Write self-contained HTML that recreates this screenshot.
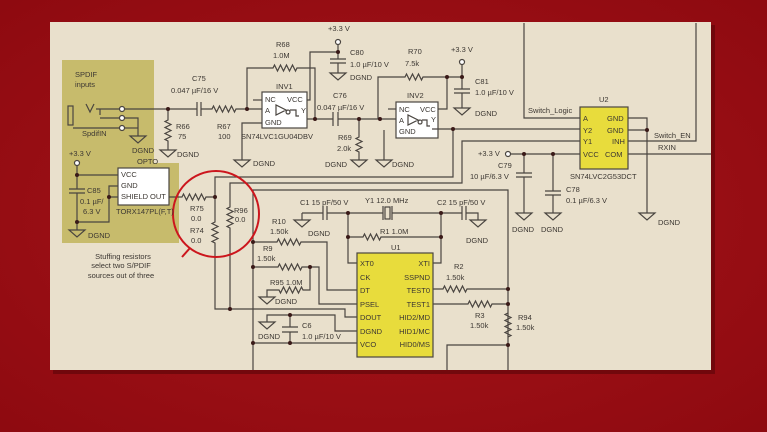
<!DOCTYPE html>
<html><head><meta charset="utf-8"><style>
html,body{margin:0;padding:0;background:#9a0c12;}
svg{display:block}
text{font-family:"Liberation Sans",sans-serif;font-size:7.5px;fill:#3c3732}
</style></head><body>
<svg width="767" height="432" viewBox="0 0 767 432" xmlns="http://www.w3.org/2000/svg">
<defs>
<radialGradient id="bg" cx="50%" cy="50%" r="70%"><stop offset="0" stop-color="#a8141a"/><stop offset="1" stop-color="#8e0a10"/></radialGradient>
</defs>
<rect width="767" height="432" fill="url(#bg)"/>
<rect x="53" y="25" width="662" height="349" fill="#5a0508" opacity="0.6"/>
<rect x="50" y="22" width="661" height="348" fill="#e9e0cc"/>
<!-- olive area -->
<path d="M62 60 H154 V163 H179 V243 H62 Z" fill="#c7bb6c"/>
<g stroke="#4a4540" stroke-width="1.2" fill="none">
<!-- jack -->
<rect x="68" y="106" width="5" height="19"/>
<path d="M86 104 l4 8 l4 -8"/>
<path d="M96 109 H120"/><path d="M100 109 v6"/><path d="M100 118 H120"/><path d="M73 128 H120"/>
<path d="M125 118 H138 V136"/><path d="M125 128 H138"/>
<path d="M130 136 h16 l-8 7 z"/>
<path d="M125 109 H197 M197 102 v14 M201 102 v14 M201 109 H212 l1.5 -3 l3 6 l3 -6 l3 6 l3 -6 l3 6 l3 -6 l3 6 l1.5 -3 H262"/>
<!-- R66 -->
<path d="M168 109 V120 l-3 1.5 l6 3 l-6 3 l6 3 l-6 3 l6 3 l-6 3 l3 1.5 V150"/>
<path d="M160 150 h16 l-8 7 z"/>
<!-- INV1 -->
<rect x="262" y="92" width="45" height="36" fill="#fff"/>
<path d="M253 100 H262"/>
<path d="M276 105 v10 l10 -5 z M288 110 a2 2 0 1 0 0.1 0 M290 110 h6 v6 h3"/>
<path d="M247 109 V68 H273 l1.5 -3 l3 6 l3 -6 l3 6 l3 -6 l3 6 l3 -6 l3 6 l1.5 -3 H315 V119"/>
<path d="M262 123 H242 V160"/><path d="M234 160 h16 l-8 7 z"/>
<path d="M307 100 H310 V52 H338"/>
<path d="M338 45 V59 M330 59 h16 M330 63 h16 M338 63 V73"/><path d="M330 73 h16 l-8 7 z"/>
<path d="M307 119 H333 M333 112 v14 M338 112 v14 M338 119 H396"/>
<path d="M359 119 V137 l-3 1.5 l6 3 l-6 3 l6 3 l-6 3 l3 1.5 V160"/><path d="M351 160 h16 l-8 7 z"/>
<path d="M384 130 V160"/><path d="M376 160 h16 l-8 7 z"/>
<!-- INV2 -->
<rect x="396" y="102" width="42" height="36" fill="#fff"/>
<path d="M388 109 H396"/>
<path d="M408 115 v10 l10 -5 z M420 120 a2 2 0 1 0 0.1 0 M422 120 h5 v6 h3"/>
<path d="M378 119 V77 H405 l1.5 -3 l3 6 l3 -6 l3 6 l3 -6 l3 6 l1.5 -3 H462"/>
<path d="M438 109 H447 V77"/>
<path d="M462 65 V89 M454 89 h16 M454 93 h16 M462 93 V108"/><path d="M454 108 h16 l-8 7 z"/>
<path d="M432 129 H580"/>
<!-- U2 wiring -->
<path d="M524 23 V118 H580"/>
<path d="M580 141 H462 V183 H230 V207 l-3 1.5 l6 3 l-6 3 l6 3 l-6 3 l6 3 l-6 3 l3 1.5 V309"/>
<path d="M453 129 V177 H215 V197"/>
<path d="M510 154 H580"/>
<path d="M524 154 V173 M516 173 h16 M516 177 h16 M524 177 V213"/><path d="M516 213 h16 l-8 7 z"/>
<path d="M553 154 V191 M545 191 h16 M545 195 h16 M553 195 V213"/><path d="M545 213 h16 l-8 7 z"/>
<path d="M628 118 H647 V213 M628 130 H647"/><path d="M639 213 h16 l-8 7 z"/>
<path d="M628 141 H696 V23"/>
<path d="M628 154 H711"/>
<!-- OPTO -->
<rect x="118" y="168" width="51" height="37" fill="#fff"/>
<path d="M77 166 V189 M69 189 h16 M69 193 h16 M77 193 V230"/><path d="M69 230 h16 l-8 7 z"/>
<path d="M77 175 H118"/>
<path d="M118 186 H109 V222 H77 M109 197 H118"/>
<path d="M169 197 H182 l1.5 -3 l3 6 l3 -6 l3 6 l3 -6 l3 6 l3 -6 l3 6 l1.5 -3 H215"/>
<path d="M215 197 V222 l-3 1.5 l6 3 l-6 3 l6 3 l-6 3 l6 3 l-6 3 l3 1.5 V309 H345 V317 H357"/>
<!-- lower -->
<path d="M253 370 V190 H508 V370"/>
<path d="M253 242 H277 l1.5 -3 l3 6 l3 -6 l3 6 l3 -6 l3 6 l3 -6 l3 6 l1.5 -3 H327 V290 H357"/>
<path d="M253 267 H278 l1.5 -3 l3 6 l3 -6 l3 6 l3 -6 l3 6 l3 -6 l3 6 l1.5 -3 H319 V304 H357"/>
<path d="M310 267 V290 H303 l-1.5 -3 l-3 6 l-3 -6 l-3 6 l-3 -6 l-3 6 l-3 -6 l-3 6 l-1.5 -3 H267 V297"/><path d="M259 297 h16 l-8 7 z"/>
<path d="M357 331 H335 V315 H267 V322"/><path d="M259 322 h16 l-8 7 z"/>
<path d="M290 315 V327 M282 327 h16 M282 332 h16 M290 332 V343"/>
<path d="M253 343 H357"/>
<path d="M302 213 V220"/><path d="M294 220 h16 l-8 7 z"/>
<path d="M302 213 H323 M323 206 v14 M327 206 v14 M327 213 H383 M383 206 v14 M392 206 v14 M392 213 H462 M462 206 v14 M466 206 v14 M466 213 H478 V220"/>
<rect x="385" y="207" width="5" height="12"/>
<path d="M470 220 h16 l-8 7 z"/>
<path d="M348 213 V263 H357 M348 237 H363 l1.5 -3 l3 6 l3 -6 l3 6 l3 -6 l3 6 l1.5 -3 H441 M441 213 V263 H433"/>
<path d="M433 289 H443 l1.5 -3 l3 6 l3 -6 l3 6 l3 -6 l3 6 l3 -6 l3 6 l1.5 -3 H508"/>
<path d="M433 304 H468 l1.5 -3 l3 6 l3 -6 l3 6 l3 -6 l3 6 l3 -6 l3 6 l1.5 -3 H508"/>
<path d="M508 313 l-3 1.5 l6 3 l-6 3 l6 3 l-6 3 l6 3 l-6 3 l6 3 l-3 1.5"/>
<path d="M508 345 H447 V370"/>
</g>
<!-- white circles for terminals -->
<g stroke="#4a4540" stroke-width="1.2" fill="#fff">
<circle cx="122" cy="109" r="2.5"/><circle cx="122" cy="118" r="2.5"/><circle cx="122" cy="128" r="2.5"/>
<circle cx="338" cy="42" r="2.5"/><circle cx="462" cy="62" r="2.5"/><circle cx="508" cy="154" r="2.5"/><circle cx="77" cy="163" r="2.5"/>
</g>
<!-- U2, U1 yellow -->
<rect x="580" y="107" width="48" height="62" fill="#e8dc3c" stroke="#4a4540" stroke-width="1.2"/>
<rect x="357" y="253" width="76" height="104" fill="#e8dc3c" stroke="#4a4540" stroke-width="1.2"/>
<!-- junction dots -->
<g fill="#3a1a18">
<circle cx="168" cy="109" r="2"/><circle cx="247" cy="109" r="2"/><circle cx="338" cy="52" r="2"/><circle cx="315" cy="119" r="2"/>
<circle cx="359" cy="119" r="2"/><circle cx="380" cy="119" r="2"/><circle cx="447" cy="77" r="2"/><circle cx="462" cy="77" r="2"/>
<circle cx="453" cy="129" r="2"/><circle cx="524" cy="154" r="2"/><circle cx="553" cy="154" r="2"/><circle cx="647" cy="130" r="2"/>
<circle cx="77" cy="175" r="2"/><circle cx="77" cy="222" r="2"/><circle cx="109" cy="197" r="2"/><circle cx="215" cy="197" r="2"/>
<circle cx="230" cy="309" r="2"/><circle cx="253" cy="242" r="2"/><circle cx="253" cy="267" r="2"/><circle cx="310" cy="267" r="2"/>
<circle cx="253" cy="343" r="2"/><circle cx="290" cy="315" r="2"/><circle cx="290" cy="343" r="2"/><circle cx="348" cy="213" r="2"/>
<circle cx="348" cy="237" r="2"/><circle cx="441" cy="213" r="2"/><circle cx="441" cy="237" r="2"/><circle cx="508" cy="289" r="2"/>
<circle cx="508" cy="304" r="2"/><circle cx="508" cy="345" r="2"/>
</g>
<!-- red circle -->
<circle cx="216" cy="214" r="43" fill="none" stroke="#cc161d" stroke-width="2"/>
<path d="M190 248 L182 257" stroke="#cc161d" stroke-width="2"/>
<!-- labels -->
<text x="75" y="77">SPDIF</text><text x="75" y="87">inputs</text>
<text x="82" y="136">SpdifIN</text><text x="132" y="153">DGND</text>
<text x="192" y="81">C75</text><text x="171" y="93">0.047 µF/16 V</text>
<text x="176" y="129">R66</text><text x="178" y="139">75</text><text x="177" y="157">DGND</text>
<text x="217" y="129">R67</text><text x="218" y="139">100</text>
<text x="276" y="47">R68</text><text x="273" y="58">1.0M</text>
<text x="276" y="89">INV1</text>
<g font-size="7"><text x="265" y="102">NC</text><text x="287" y="102">VCC</text><text x="265" y="113">A</text><text x="301" y="113">Y</text><text x="265" y="125">GND</text></g>
<text x="241" y="139">SN74LVC1GU04DBV</text><text x="253" y="166">DGND</text>
<text x="328" y="31">+3.3 V</text><text x="350" y="55">C80</text><text x="350" y="67">1.0 µF/10 V</text><text x="350" y="80">DGND</text>
<text x="333" y="98">C76</text><text x="317" y="110">0.047 µF/16 V</text>
<text x="338" y="140">R69</text><text x="337" y="151">2.0k</text><text x="325" y="167">DGND</text><text x="392" y="167">DGND</text>
<text x="408" y="54">R70</text><text x="405" y="66">7.5k</text><text x="407" y="98">INV2</text>
<g font-size="7"><text x="399" y="112">NC</text><text x="420" y="112">VCC</text><text x="399" y="123">A</text><text x="431" y="122">Y</text><text x="399" y="134">GND</text></g>
<text x="451" y="52">+3.3 V</text><text x="475" y="84">C81</text><text x="475" y="95">1.0 µF/10 V</text><text x="475" y="116">DGND</text>
<text x="528" y="113">Switch_Logic</text><text x="599" y="102">U2</text>
<g font-size="7.5"><text x="583" y="121">A</text><text x="583" y="133">Y2</text><text x="583" y="144">Y1</text><text x="583" y="157">VCC</text>
<text x="607" y="121">GND</text><text x="607" y="133">GND</text><text x="612" y="144">INH</text><text x="605" y="157">COM</text></g>
<text x="654" y="138">Switch_EN</text><text x="658" y="150">RXIN</text>
<text x="478" y="156">+3.3 V</text><text x="498" y="168">C79</text><text x="470" y="179">10 µF/6.3 V</text>
<text x="566" y="192">C78</text><text x="566" y="203">0.1 µF/6.3 V</text><text x="570" y="179">SN74LVC2G53DCT</text>
<text x="512" y="232">DGND</text><text x="541" y="232">DGND</text><text x="658" y="225">DGND</text>
<text x="69" y="156">+3.3 V</text><text x="137" y="164">OPTO</text>
<g font-size="7.5"><text x="121" y="177">VCC</text><text x="121" y="188">GND</text><text x="121" y="199">SHIELD</text><text x="150" y="199">OUT</text></g>
<text x="116" y="214">TORX147PL(F,T)</text>
<text x="87" y="193">C85</text><text x="80" y="204">0.1 µF/</text><text x="83" y="214">6.3 V</text><text x="88" y="238">DGND</text>
<text x="190" y="211">R75</text><text x="191" y="221">0.0</text><text x="190" y="233">R74</text><text x="191" y="243">0.0</text>
<text x="234" y="213">R96</text><text x="235" y="222">0.0</text>
<g text-anchor="middle" font-size="7"><text x="123" y="259">Stuffing resistors</text><text x="121" y="268">select two S/PDIF</text><text x="121" y="278">sources out of three</text></g>
<text x="300" y="205">C1  15 pF/50 V</text><text x="365" y="203">Y1  12.0 MHz</text><text x="437" y="205">C2  15 pF/50 V</text>
<text x="380" y="234">R1  1.0M</text><text x="308" y="236">DGND</text><text x="466" y="243">DGND</text>
<text x="272" y="224">R10</text><text x="270" y="234">1.50k</text><text x="263" y="251">R9</text><text x="257" y="261">1.50k</text>
<text x="270" y="285">R95  1.0M</text><text x="275" y="304">DGND</text>
<text x="302" y="328">C6</text><text x="302" y="339">1.0 µF/10 V</text><text x="258" y="339">DGND</text>
<text x="391" y="250">U1</text>
<g font-size="7.5"><text x="360" y="266">XT0</text><text x="360" y="280">CK</text><text x="360" y="293">DT</text><text x="360" y="307">PSEL</text><text x="360" y="320">DOUT</text><text x="360" y="334">DGND</text><text x="360" y="347">VCO</text>
<g text-anchor="end"><text x="430" y="266">XTI</text><text x="430" y="280">SSPND</text><text x="430" y="293">TEST0</text><text x="430" y="307">TEST1</text><text x="430" y="320">HID2/MD</text><text x="430" y="334">HID1/MC</text><text x="430" y="347">HID0/MS</text></g></g>
<text x="454" y="269">R2</text><text x="446" y="280">1.50k</text><text x="475" y="318">R3</text><text x="470" y="328">1.50k</text>
<text x="518" y="320">R94</text><text x="516" y="330">1.50k</text>
</svg>
</body></html>
